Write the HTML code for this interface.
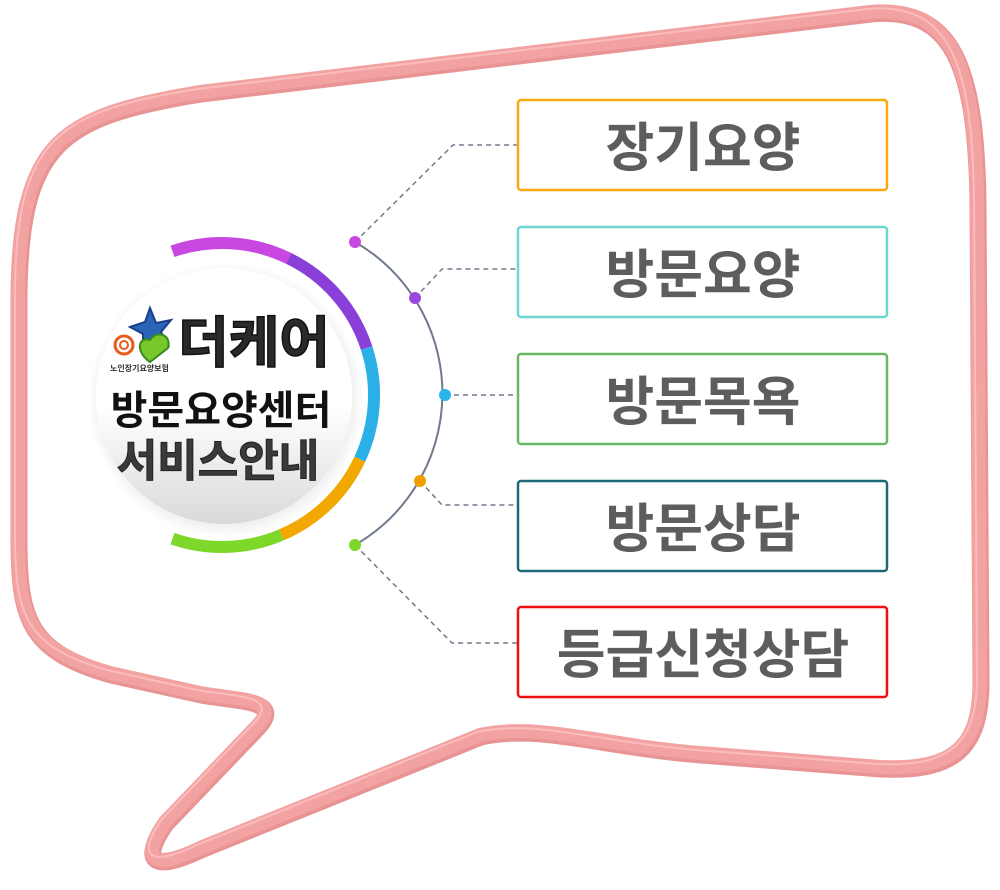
<!DOCTYPE html>
<html><head><meta charset="utf-8"><style>
html,body{margin:0;padding:0;background:#fff;}
svg{display:block;}
text{font-family:"Liberation Sans","Noto Sans CJK KR",sans-serif;font-weight:bold;}
</style></head><body>
<svg width="1000" height="890" viewBox="0 0 1000 890" xmlns="http://www.w3.org/2000/svg">
<defs>
<linearGradient id="cg" x1="0" y1="0" x2="0" y2="1">
<stop offset="0.55" stop-color="#ffffff"/><stop offset="1" stop-color="#d9d9d9"/></linearGradient>
<radialGradient id="sh" cx="0.5" cy="0.5" r="0.5"><stop offset="0.8" stop-color="#000" stop-opacity="0.12"/><stop offset="1" stop-color="#000" stop-opacity="0"/></radialGradient>
</defs>
<!-- bubble -->
<path d="M 18,300 C 18,140 60,115 200,92 L 870,12 C 950,5 975,60 977,200 L 980,680 C 980,750 950,770 880,767 L 700,753 C 600,745 540,722 480,735 L 200,848 C 150,872 140,858 165,822 L 255,728 C 285,698 240,700 200,693 L 110,673 C 30,650 18,620 18,540 Z" fill="none" stroke="#e89494" stroke-width="17" stroke-linejoin="round" transform="translate(1,2)"/>
<path d="M 18,300 C 18,140 60,115 200,92 L 870,12 C 950,5 975,60 977,200 L 980,680 C 980,750 950,770 880,767 L 700,753 C 600,745 540,722 480,735 L 200,848 C 150,872 140,858 165,822 L 255,728 C 285,698 240,700 200,693 L 110,673 C 30,650 18,620 18,540 Z" fill="none" stroke="#f3a2a2" stroke-width="14" stroke-linejoin="round"/>
<path d="M 18,300 C 18,140 60,115 200,92 L 870,12 C 950,5 975,60 977,200 L 980,680 C 980,750 950,770 880,767 L 700,753 C 600,745 540,722 480,735 L 200,848 C 150,872 140,858 165,822 L 255,728 C 285,698 240,700 200,693 L 110,673 C 30,650 18,620 18,540 Z" fill="none" stroke="#fbbcbc" stroke-width="2" stroke-linejoin="round" transform="translate(-3,-3)"/>

<!-- white circle -->
<circle cx="226" cy="400" r="138" fill="url(#sh)"/>
<circle cx="224" cy="396" r="128" fill="url(#cg)"/>

<!-- colored arc -->
<g fill="none" stroke-width="12">
<path d="M 172.5,251.3 A 152 152 0 0 1 288.6,258.4" stroke="#c847e0"/>
<path d="M 288.6,258.4 A 152 152 0 0 1 366.6,348.0" stroke="#8a40d8"/>
<path d="M 366.6,348.0 A 152 152 0 0 1 359.8,459.2" stroke="#2ab0e6"/>
<path d="M 359.8,459.2 A 152 152 0 0 1 281.4,534.9" stroke="#f2a800"/>
<path d="M 281.4,534.9 A 152 152 0 0 1 172.5,538.7" stroke="#7ed82a"/>
</g>

<!-- connector arc -->
<path d="M 355,242 A 175 175 0 0 1 355,545" fill="none" stroke="#6f7a8c" stroke-width="2"/>
<g fill="none" stroke="#6f7a8c" stroke-width="1.5" stroke-dasharray="5,4">
<path d="M 355,242 L 453,145 L 518,145"/>
<path d="M 415,298 L 442,269 L 518,269"/>
<path d="M 445,395 L 518,395"/>
<path d="M 420,481 L 442,505 L 518,505"/>
<path d="M 355,545 L 452,643 L 518,643"/>
</g>
<circle cx="355" cy="242" r="6" fill="#c847e0"/>
<circle cx="415" cy="298" r="6" fill="#9a48dc"/>
<circle cx="445" cy="395" r="6" fill="#29b4ea"/>
<circle cx="420" cy="481" r="6" fill="#f2a000"/>
<circle cx="355" cy="545" r="6" fill="#7ed82a"/>

<!-- boxes -->
<g fill="#fff" stroke-width="2.5">
<rect x="518" y="100" width="369" height="90" rx="3" stroke="#f9a90f"/>
<rect x="518" y="227" width="369" height="90" rx="3" stroke="#6fd6d0"/>
<rect x="518" y="354" width="369" height="90" rx="3" stroke="#68b866"/>
<rect x="518" y="481" width="369" height="90" rx="3" stroke="#1e6877"/>
<rect x="518" y="607" width="369" height="90" rx="3" stroke="#ee1010"/>
</g>
<g fill="#5d5d5d" font-size="53" text-anchor="middle">
<text x="703" y="166">장기요양</text>
<text x="703" y="293">방문요양</text>
<text x="703" y="420">방문목욕</text>
<text x="703" y="547">방문상담</text>
<text x="703" y="673">등급신청상담</text>
</g>

<!-- logo -->
<path d="M 150,308 L 156,323 L 171,320 L 161,332 L 168,345 L 153,339 L 143,350 L 143,334 L 130,327 L 145,322 Z" fill="#2a64b8" stroke="#1a3e8a" stroke-width="2"/>
<path d="M 150,362 C 135,352 138,336 150,340 C 156,330 172,334 168,348 Z" fill="#78c82c" stroke="#3a8a20" stroke-width="2"/>
<circle cx="124" cy="345" r="9" fill="none" stroke="#e85a1a" stroke-width="3"/>
<circle cx="124" cy="345" r="4" fill="none" stroke="#e85a1a" stroke-width="2"/>
<text x="110" y="371" font-size="8" font-weight="normal" fill="#333">노인장기요양보험</text>

<text x="254" y="362" font-size="55" fill="#2a2a2a" text-anchor="middle" stroke="#111" stroke-width="1.5">더케어</text>
<text x="221" y="424" font-size="40" fill="#111" text-anchor="middle">방문요양센터</text>
<text x="218" y="476" font-size="44" fill="#3a3a3a" text-anchor="middle" stroke="#222" stroke-width="1">서비스안내</text>
</svg>
</body></html>
